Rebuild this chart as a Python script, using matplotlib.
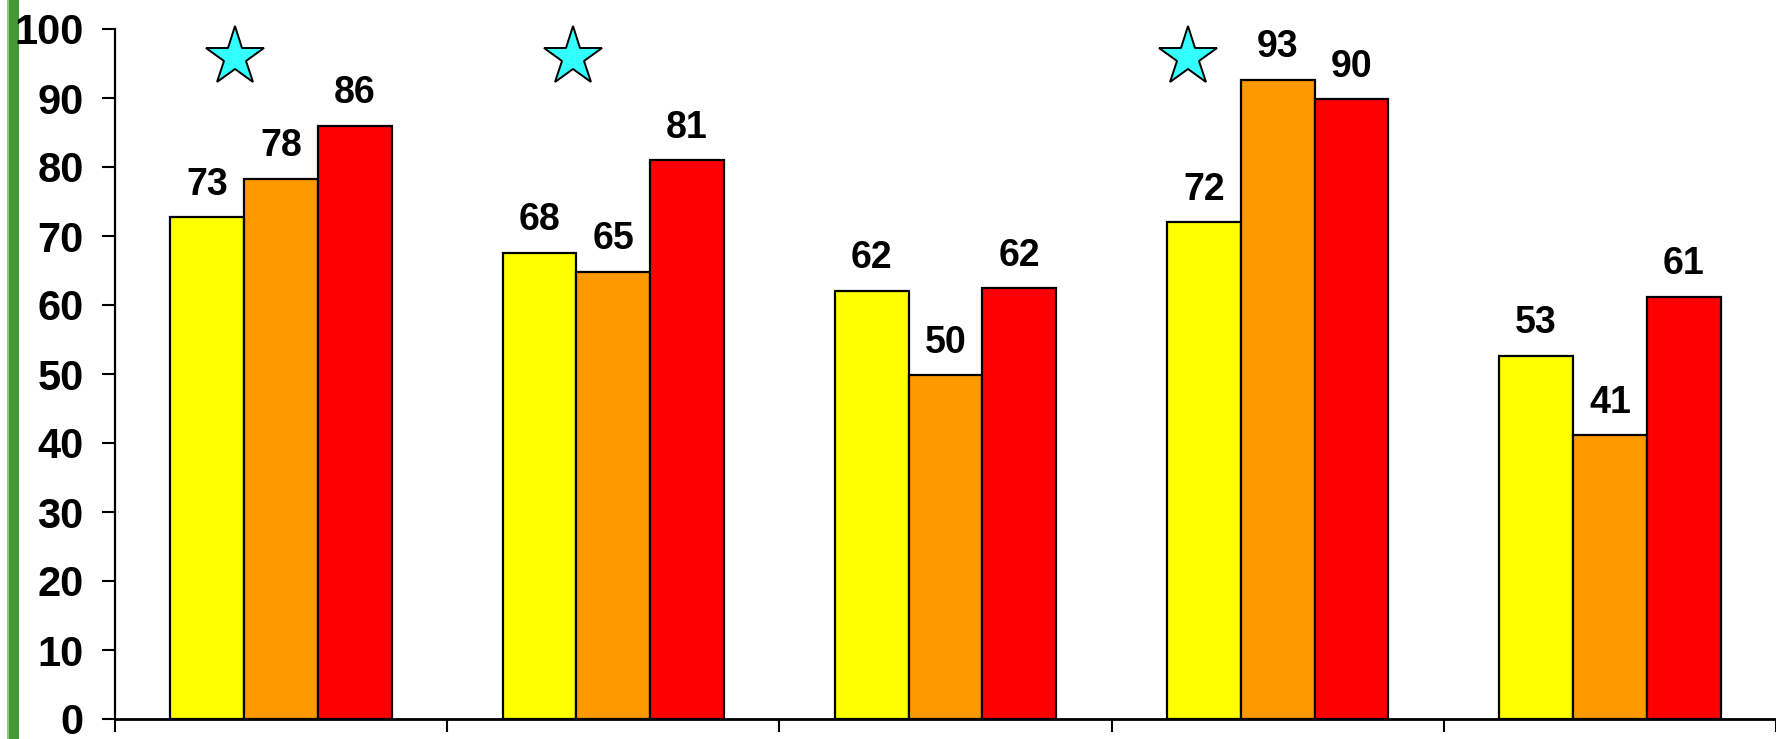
import matplotlib
matplotlib.use("Agg")
import matplotlib.pyplot as plt
from matplotlib.patches import Rectangle
import numpy as np

# ---- data ----
groups = ["G1", "G2", "G3", "G4", "G5"]
series1 = [72.7, 67.6, 62.1, 72.0, 52.6]   # yellow
series2 = [78.3, 64.8, 49.8, 92.6, 41.1]   # orange
series3 = [86.0, 81.0, 62.4, 89.8, 61.2]   # red
labels1 = ["73", "68", "62", "72", "53"]
labels2 = ["78", "65", "50", "93", "41"]
labels3 = ["86", "81", "62", "90", "61"]
star_groups = [0, 1, 3]
star_offsets = [-0.14, -0.12, -0.27]
star_value = 95.9
yticks = [0, 10, 20, 30, 40, 50, 60, 70, 80, 90, 100]

colors = ["#FFFF00", "#FF9900", "#FF0000"]

W, H = 1776, 739
fig = plt.figure(figsize=(W / 100, H / 100), dpi=100)
fig.patch.set_facecolor("white")

# green stripe on the left
fig.patches.append(Rectangle((7 / W, 0), 12 / W, 1, transform=fig.transFigure,
                             facecolor="#439a34", edgecolor="none", zorder=-1))
fig.patches.append(Rectangle((7 / W, 0), 2 / W, 1, transform=fig.transFigure,
                             facecolor="#8cc77e", edgecolor="none", zorder=-1))

left, bottom, top = 115, 719, 29
cat_px = 334.3
ax = fig.add_axes([left / W, (H - bottom) / H, (W - left) / W, (bottom - top) / H])
ax.set_xlim(-0.5, -0.5 + (W - left) / cat_px)
ax.set_ylim(0, 100)

x = np.arange(len(groups))
bw = 0.222
font = dict(family="Liberation Sans", weight="bold", size=27)

for i, (vals, labs) in enumerate(zip([series1, series2, series3], [labels1, labels2, labels3])):
    xs = x + (i - 1) * bw
    ax.bar(xs, vals, width=bw, color=colors[i], edgecolor="black", linewidth=1.6, zorder=2)
    for xi, v, lab in zip(xs, vals, labs):
        ax.annotate(lab, (xi, v), xytext=(0, 10.5), textcoords="offset points",
                    ha="center", va="bottom", **font)

for g, off in zip(star_groups, star_offsets):
    ax.plot(g + off, star_value, marker="*", markersize=44, markerfacecolor="#33FFFF",
            markeredgecolor="black", markeredgewidth=1.4, linestyle="none", zorder=3,
            clip_on=False)

for s in ["top", "right"]:
    ax.spines[s].set_visible(False)
ax.spines["left"].set_linewidth(1.6)
ax.spines["bottom"].set_linewidth(2.0)

ax.set_yticks(yticks)
ax.set_yticklabels([str(t) for t in yticks])
ax.set_xticks(np.arange(-0.5, len(groups) + 0.5, 1.0))
ax.set_xticklabels([])
ax.tick_params(axis="y", direction="out", length=9.5, width=1.5, pad=13)
ax.tick_params(axis="x", direction="out", length=9.5, width=1.5)
for t in ax.get_yticklabels():
    t.set_fontfamily("Liberation Sans")
    t.set_fontweight("bold")
    t.set_fontsize(30)

fig.savefig("out.png", dpi=100)
